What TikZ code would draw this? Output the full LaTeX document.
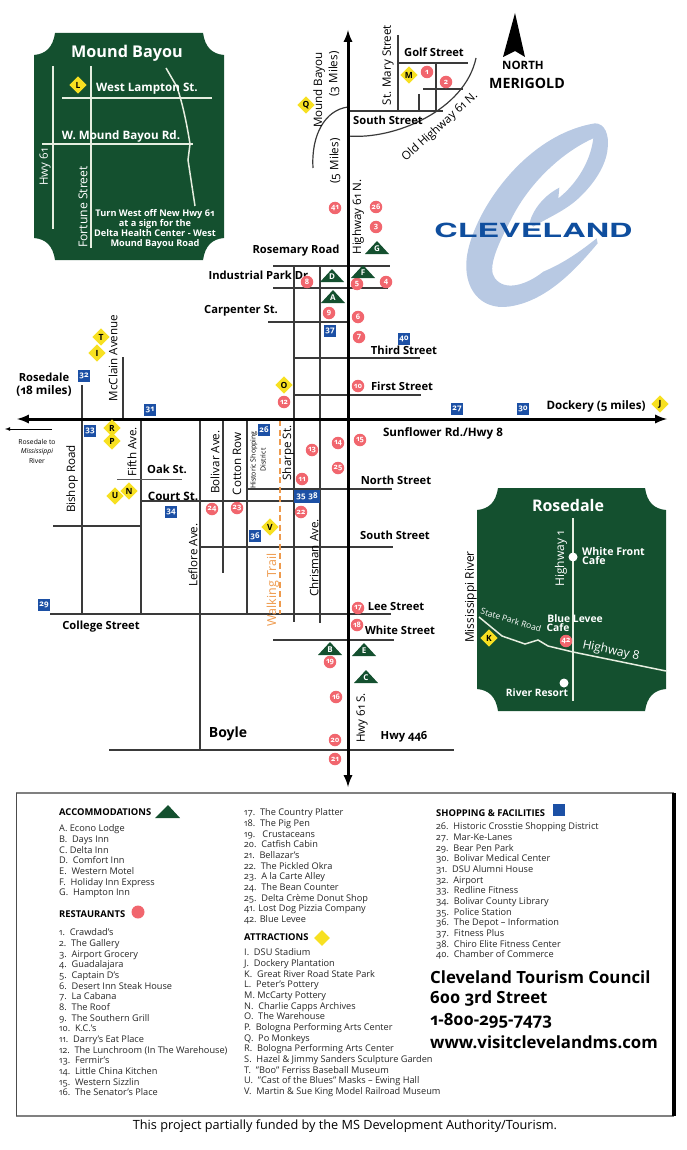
\documentclass[tikz,border=0pt]{standalone}
\usepackage{fontspec}
\setmainfont[Numbers=OldStyle]{Open Sans}
\newfontfamily\logofont{TeX Gyre Heros}
\usetikzlibrary{shapes.geometric}
\definecolor{panelgreen}{HTML}{14502F}
\definecolor{panelroad}{HTML}{E6EEE0}
\definecolor{mapred}{HTML}{F1666E}
\definecolor{mapblue}{HTML}{1C50A5}
\definecolor{mapyellow}{HTML}{F7E021}
\definecolor{roadgray}{HTML}{3A3A3A}
\definecolor{logoblue}{HTML}{B8C9E3}
\definecolor{logotext}{HTML}{0F4E9E}
\definecolor{trailorange}{HTML}{EE9A4D}
\tikzset{
  street/.style={line width=1.2pt,color=roadgray},
  mainroad/.style={line width=3pt,color=black,<->},
  inroad/.style={line width=1.5pt,color=panelroad},
  stlab/.style={font=\fontsize{11.2}{13}\selectfont\bfseries,inner sep=0pt},
  rdlab/.style={font=\fontsize{11.6}{13}\selectfont,inner sep=0pt,rotate=90},
  inlab/.style={font=\fontsize{11.6}{13}\selectfont\bfseries,inner sep=0pt,text=white},
  resto/.style={circle,fill=mapred,inner sep=0pt,minimum size=12.5pt,text=white,font=\fontsize{7.5}{8}\selectfont\bfseries},
  shop/.style={rectangle,fill=mapblue,inner sep=0pt,minimum size=12.5pt,text=white,font=\fontsize{8}{9}\selectfont\bfseries},
  attract/.style={diamond,aspect=1,fill=mapyellow,inner sep=0pt,minimum size=17.5pt,text=black,font=\fontsize{8.5}{9}\selectfont\bfseries},
  lodgelab/.style={inner sep=0pt,text=white,font=\fontsize{8}{9}\selectfont\bfseries},
  legend/.style={anchor=north west,align=left,inner sep=0pt,text=black!85,font=\fontsize{9.2}{10.67}\selectfont},
  legendhead/.style={anchor=west,inner sep=0pt,font=\fontsize{9.4}{10}\selectfont\bfseries},
  bigline/.style={anchor=west,inner sep=0pt,font=\fontsize{16.8}{18}\selectfont\bfseries}
}
\begin{document}
\begin{tikzpicture}[>=latex,x=1pt,y=-1pt]
\useasboundingbox (0,0) rectangle (687,1150);
% logo behind everything
\begin{scope}[shift={(430,115)},x=0.3333pt,y=-0.3333pt]
\fill[logoblue] (495,25) .. controls (525,25) and (538,60) .. (533,100)
  .. controls (528,160) and (480,220) .. (440,255)
  .. controls (400,290) and (350,310) .. (310,335) -- (298,325)
  .. controls (310,280) and (345,240) .. (388,218) -- (385,250)
  .. controls (430,215) and (480,150) .. (490,70)
  .. controls (400,110) and (300,200) .. (245,310)
  .. controls (205,385) and (170,460) .. (195,490)
  .. controls (225,530) and (290,510) .. (340,470)
  .. controls (400,445) and (450,410) .. (500,370) -- (503,385)
  .. controls (440,460) and (350,560) .. (235,575)
  .. controls (150,585) and (100,520) .. (110,430)
  .. controls (125,300) and (280,60) .. (495,25) -- cycle;
\end{scope}
\node[inner sep=0pt,text=logotext,xscale=1.66,transform shape,font=\logofont\fontsize{19.5}{20}\selectfont\bfseries] (logo) at (533.5,230) {CLEVELAND};
% north arrow
\fill[black] (515,13) -- (525,57) -- (515,51) -- (503,57) -- cycle;
\node[inner sep=0pt,font=\fontsize{11.5}{13}\selectfont\bfseries] (north) at (523,65) {NORTH};
\node[inner sep=0pt,font=\fontsize{14.2}{16}\selectfont\bfseries] (merigold) at (527,83) {MERIGOLD};
% town streets
\foreach \y/\a/\b in {63/398/468,89/423/463,111/348/443,266/273/390,288/273/388,322/268/348,358/294/420,395/294/421,489/247/392,501/141/294,526/53/141,547/200/393,614/50/391,640/273/394,750/109/454}{
  \draw[street] (\a,\y) -- (\b,\y);
}
\foreach \x/\a/\b in {398/35/111,436/63/111,419/94/111,294/266/622,320/266/623,123/357/419,82/385/614,141/419/614,200/419/750,223/419/573,247/419/614}{
  \draw[street] (\x,\a) -- (\x,\b);
}
\draw[color=gray!70!black,line width=1pt] (117,479) -- (182,479);
\draw[street] (348,136) .. controls (395,140) and (465,110) .. (476,58);
\draw[street] (348,107) .. controls (325,110) and (311,135) .. (313,168);
\draw[color=trailorange,line width=2.5pt,dash pattern=on 6pt off 3.5pt] (280,420) -- (280,614);
\draw[mainroad] (348,30) -- (348,787);
\draw[mainroad] (17,419) -- (667,419);
\draw[->,line width=0.8pt] (52,429) -- (5,429);
% street names
\node[stlab] (golf) at (434,52) {Golf Street};
\node[stlab] (southn) at (388,120) {South Street};
\node[stlab] (rosemary) at (296,251) {Rosemary Road};
\node[stlab] (industrial) at (260,275) {Industrial Park Dr.};
\node[stlab] (carpenter) at (241,311) {Carpenter St.};
\node[stlab] (third) at (404,350) {Third Street};
\node[stlab] (first) at (402,386) {First Street};
\node[stlab] (rosedale) at (44,377) {Rosedale};
\node[stlab,font=\fontsize{11.8}{13}\selectfont\bfseries] (miles) at (44,391) {(18 miles)};
\node[stlab,font=\fontsize{11.6}{13}\selectfont\bfseries] (dockery) at (596,406) {Dockery (5 miles)};
\node[stlab,font=\fontsize{11.6}{13}\selectfont\bfseries] (sunflower) at (443,433) {Sunflower Rd./Hwy 8};
\node[stlab] (oak) at (167,469) {Oak St.};
\node[stlab,font=\fontsize{11.6}{13}\selectfont\bfseries] (court) at (173,496) {Court St.};
\node[stlab] (northst) at (396,480) {North Street};
\node[stlab] (souths) at (395,535) {South Street};
\node[stlab] (college) at (101,627) {College Street};
\node[stlab] (lee) at (396,606) {Lee Street};
\node[stlab] (white) at (400,630) {White Street};
\node[stlab,font=\fontsize{14}{15}\selectfont\bfseries] (boyle) at (228,734) {Boyle};
\node[stlab] (hwy446) at (404,737) {Hwy 446};
\node[inner sep=0pt,align=center,font=\fontsize{6.8}{9.5}\selectfont] (tomiss) at (37,451) {Rosedale to\\\textit{Mississippi}\\River};
\node[rdlab] (stmary) at (388,65) {St. Mary Street};
\node[rdlab] (moundrd) at (319,90) {Mound Bayou};
\node[rdlab] (three) at (334,74) {(3 Miles)};
\node[rdlab] (five) at (335,161) {(5 Miles)};
\node[rdlab] (hwynorth) at (358,217) {Highway 61 N.};
\node[rdlab,rotate=-48] (oldhwy) at (440,127) {Old Highway 61 N.};
\node[rdlab] (mcclain) at (113,358) {McClain Avenue};
\node[rdlab] (fifth) at (132,452) {Fifth Ave.};
\node[rdlab] (bishop) at (72,479) {Bishop Road};
\node[rdlab] (leflore) at (193,555) {Leflore Ave.};
\node[rdlab] (bolivar) at (215,462) {Bolivar Ave.};
\node[rdlab] (cotton) at (237,464) {Cotton Row};
\node[rdlab] (sharpe) at (288,453) {Sharpe St.};
\node[rdlab] (chrisman) at (314,558) {Chrisman Ave.};
\node[rdlab,text=trailorange,font=\fontsize{12.4}{13}\selectfont] (trail) at (273,590) {Walking Trail};
\node[rdlab] (hwysouth) at (362,718) {Hwy 61 S.};
\node[rdlab,align=center,font=\fontsize{7}{10}\selectfont] (historic) at (258,460) {Historic Shopping\\District};
% panel Mound Bayou
\fill[panelgreen] (55,33) -- (203,33) .. controls (205,47) and (212,54) .. (224,55) -- (224,238)
  .. controls (212,239) and (205,246) .. (203,260) -- (55,260)
  .. controls (53,246) and (46,239) .. (34,238) -- (34,55)
  .. controls (46,54) and (53,47) .. (55,33) -- cycle;
\draw[inroad] (53,66) -- (53,229);
\draw[inroad] (91,66) -- (91,248);
\draw[inroad] (62,98) -- (212,98);
\draw[inroad] (42,144) -- (193,144);
\draw[inroad] (166,68) -- (177,87) .. controls (183,105) and (187,125) .. (190,144) -- (188,160) -- (195,206);
\node[inlab,font=\fontsize{16.2}{18}\selectfont\bfseries] (moundt) at (127,53) {Mound Bayou};
\node[inlab] (lampton) at (147,89) {West Lampton St.};
\node[inlab] (wmound) at (121,136) {W. Mound Bayou Rd.};
\node[inlab,font=\fontsize{11.5}{13}\selectfont,rotate=90] (hwyin) at (45,167) {Hwy 61};
\node[inlab,font=\fontsize{12.2}{13}\selectfont,rotate=90] (fortune) at (83,207) {Fortune Street};
\node[inlab,align=center,font=\fontsize{9.2}{9.9}\selectfont\bfseries] (turn) at (155,229) {Turn West off New Hwy 61\\at a sign for the\\Delta Health Center - West\\Mound Bayou Road};
% panel Rosedale
\fill[panelgreen] (498,488) -- (645,488) .. controls (647,502) and (654,509) .. (666,510) -- (666,689)
  .. controls (654,690) and (647,697) .. (645,711) -- (498,711)
  .. controls (496,697) and (489,690) .. (477,689) -- (477,510)
  .. controls (489,509) and (496,502) .. (498,488) -- cycle;
\draw[inroad] (573,518) -- (573,701);
\draw[inroad] (479,617) -- (502,636) -- (525,644) -- (538,640) -- (548,646) -- (573,652) -- (666,671);
\fill[white] (573,557) circle (4.5);
\fill[white] (564,683) circle (4.5);
\node[inlab,font=\fontsize{16}{18}\selectfont\bfseries] (rosedt) at (568,505) {Rosedale};
\node[inlab,anchor=west,align=left,font=\fontsize{10.6}{9.4}\selectfont\bfseries] (whitefront) at (582,556) {White Front\\Cafe};
\node[inlab,font=\fontsize{12}{13}\selectfont,rotate=90] (hwyone) at (561,559) {Highway 1};
\node[inlab,font=\fontsize{8.5}{9}\selectfont,rotate=-17] (statepark) at (511,620) {State Park Road};
\node[inlab,font=\fontsize{12}{13}\selectfont,rotate=-12] (hwyeight) at (611,651) {Highway 8};
\node[inlab,font=\fontsize{10.3}{11}\selectfont\bfseries] (bluelevee) at (575,619) {Blue Levee};
\node[inlab,font=\fontsize{10.3}{11}\selectfont\bfseries] (cafe) at (558,628) {Cafe};
\node[inlab,font=\fontsize{10.2}{11}\selectfont\bfseries] (riverres) at (537,693) {River Resort};
\node[rdlab,font=\fontsize{12}{13}\selectfont] (mississippi) at (471,597) {Mississippi River};
% markers
\foreach \x/\y/\lab in {427/72/1,446/82/2,376/227/3,386/282/4,357/284/5,358/317/6,359/337/7,307/282/8,329/313/9,358/386/10,302/479/11,284/402/12,312/450/13,338/443/14,360/440/15,336/697/16,358/608/17,357/625/18,330/662/19,335/740/20,335/759/21,301/512/22,237/508/23,212/509/24,338/468/25,376/207/26,335/208/41,566/641/42}{
  \node[resto] (r\lab) at (\x,\y) {\lab};
}
\foreach \x/\y/\lab in {264/430/26,457/409/27,44/605/29,523/409/30,150/410/31,84/376/32,90/431/33,171/512/34,255/536/36,330/331/37,404/339/40}{
  \node[shop] (s\lab) at (\x,\y) {\lab};
}
\fill[mapblue] (294,490) rectangle (320,503);
\node[shop,fill=none] (s35) at (301,496.5) {35};
\node[shop,fill=none] (s38) at (313,496.5) {38};
\foreach \x/\y/\lab in {97/353/I,660/404/J,489/638/K,78/85/L,409/75/M,129/491/N,284/385/O,112/441/P,306/105/Q,112/428/R,101/337/T,115/496/U,270/527/V}{
  \node[attract] (a\lab) at (\x,\y) {\lab};
}
\foreach \x/\y/\lab in {333/297/A,330/649/B,366/677/C,332/276/D,364/650/E,363/272/F,377/248/G}{
  \fill[panelgreen] ({\x-12},{\y+6}) -- (\x,{\y-7}) -- ({\x+12},{\y+6}) -- cycle;
  \node[lodgelab] (l\lab) at (\x,{\y+1}) {\lab};
}
% legend
\draw[line width=1.3pt,color=gray] (16,793) -- (674,793) (16,1116) -- (674,1116);
\draw[line width=1pt,color=black!70] (16,793) -- (16,1116);
\draw[line width=3.5pt,color=black] (674,793) -- (674,1116);
\node[legendhead] (accom) at (59,812) {ACCOMMODATIONS};
\fill[panelgreen] (155,818) -- (168,805) -- (180,818) -- cycle;
\node[legend] (accomlist) at (59,824.5) {A.\ Econo Lodge\\B.\ \ Days Inn\\C.\ Delta Inn\\D.\ \ Comfort Inn\\E.\ \ Western Motel\\F.\ \ Holiday Inn Express\\G.\ \ Hampton Inn};
\node[legendhead] (restos) at (59,914) {RESTAURANTS};
\fill[mapred] (138,912) circle (6.5);
\node[legend] (restolist) at (59,928.5) {1.\ \ Crawdad's\\2.\ \ The Gallery\\3.\ \ Airport Grocery\\4.\ \ Guadalajara\\5.\ \ Captain D's\\6.\ \ Desert Inn Steak House\\7.\ \ La Cabana\\8.\ \ The Roof\\9.\ \ The Southern Grill\\10.\ \ K.C.'s\\11.\ \ Darry's Eat Place\\12.\ \ The Lunchroom (In The Warehouse)\\13.\ \ Fermir's\\14.\ \ Little China Kitchen\\15.\ \ Western Sizzlin\\16.\ \ The Senator's Place};
\node[legend] (restomore) at (244,808.5) {17.\ \ The Country Platter\\18.\ \ The Pig Pen\\19.\ \ \ Crustaceans\\20.\ \ Catfish Cabin\\21.\ \ Bellazar's\\22.\ \ The Pickled Okra\\23.\ \ A la Carte Alley\\24.\ \ The Bean Counter\\25.\ \ Delta Crème Donut Shop\\41. Lost Dog Pizzia Company\\42. Blue Levee};
\node[legendhead] (attr) at (244,937) {ATTRACTIONS};
\node[diamond,aspect=1,fill=mapyellow,inner sep=0pt,minimum size=16pt] (attrmark) at (322,938) {};
\node[legend] (attrlist) at (244,948.5) {I.\ \ DSU Stadium\\J.\ \ Dockery Plantation\\K.\ \ Great River Road State Park\\L.\ \ Peter's Pottery\\M. McCarty Pottery\\N.\ \ Charlie Capps Archives\\O.\ \ The Warehouse\\P.\ \ Bologna Performing Arts Center\\Q.\ \ Po Monkeys\\R.\ \ Bologna Performing Arts Center\\S.\ \ Hazel \& Jimmy Sanders Sculpture Garden\\T.\ \ "Boo" Ferriss Baseball Museum\\U.\ \ "Cast of the Blues" Masks -- Ewing Hall\\V.\ \ Martin \& Sue King Model Railroad Museum};
\node[legendhead] (shopping) at (436,813) {SHOPPING \& FACILITIES};
\fill[mapblue] (553,804) rectangle (565,816);
\node[legend] (shoplist) at (436,822.5) {26.\ \ Historic Crosstie Shopping District\\27.\ \ Mar-Ke-Lanes\\29.\ \ Bear Pen Park\\30.\ \ Bolivar Medical Center\\31.\ \ DSU Alumni House\\32.\ \ Airport\\33.\ \ Redline Fitness\\34.\ \ Bolivar County Library\\35.\ \ Police Station\\36.\ \ The Depot -- Information\\37.\ \ Fitness Plus\\38.\ \ Chiro Elite Fitness Center\\40.\ \ Chamber of Commerce};
\node[bigline] (council) at (430,977) {Cleveland Tourism Council};
\node[bigline] (address) at (430,999) {600 3rd Street};
\node[bigline] (phone) at (430,1021) {1-800-295-7473};
\node[bigline] (web) at (430,1042) {www.visitclevelandms.com};
\node[inner sep=0pt,font=\fontsize{12.7}{14}\selectfont] (funded) at (345,1126) {This project partially funded by the MS Development Authority/Tourism.};
\end{tikzpicture}
\end{document}
